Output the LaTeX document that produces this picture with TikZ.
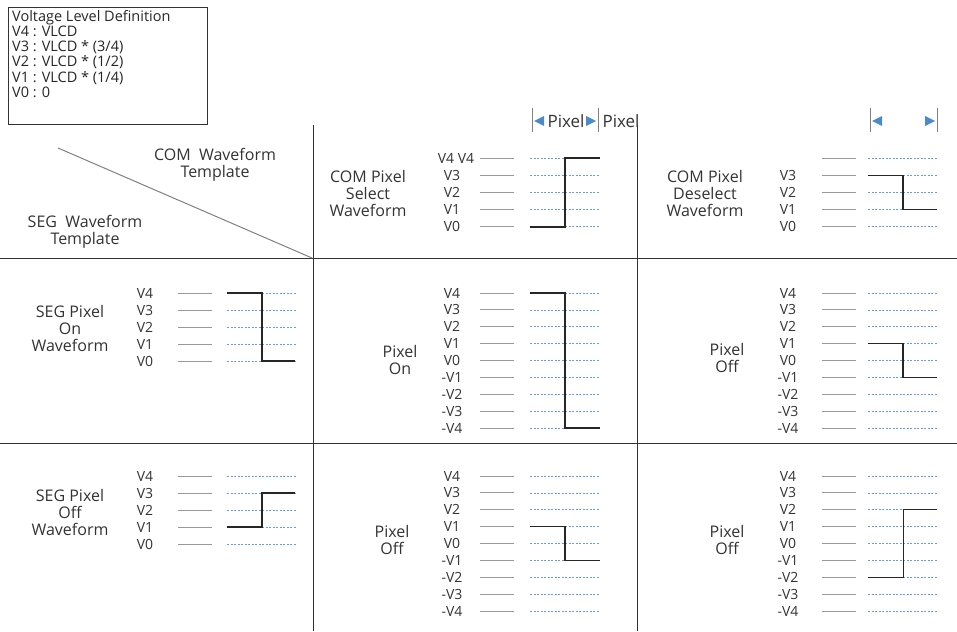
\documentclass[tikz,border=0pt]{standalone}
\usepackage{fontspec}
\setmainfont{Open Sans}
\begin{document}
\begin{tikzpicture}[x=1pt,y=-1pt,
  solidlvl/.style={draw=gray!80,line width=0.9pt},
  dashlvl/.style={draw=cyan!50!blue!60,line width=0.7pt,dash pattern=on 2pt off 1.5pt},
  wave/.style={draw=black!85,line width=1.2pt},
  lbl/.style={font=\fontsize{14}{14}\selectfont,text=black!80,inner sep=0pt},
  ttl/.style={font=\fontsize{16}{17}\selectfont,text=black!80,align=center,inner sep=0pt},
  grid/.style={draw=black!80,line width=0.9pt}]
\useasboundingbox (0,0) rectangle (957,631);
% box
\draw[black!80,line width=1pt] (8,8) rectangle (207,125);
\node[anchor=north west,align=left,inner sep=0pt,font=\fontsize{14.5}{15.2}\selectfont,text=black!85] (def) at (12,10)
 {Voltage Level Definition\\V4 : VLCD\\V3 : VLCD * (3/4)\\V2 : VLCD * (1/2)\\V1 : VLCD * (1/4)\\V0 : 0};
% grid
\draw[grid] (0,258) -- (957,258);
\draw[grid] (0,443) -- (957,443);
\draw[grid] (313,125) -- (313,631);
\draw[grid] (637,125) -- (637,631);
\draw[gray,line width=1pt] (58,148) -- (312,258);
\node[ttl] (comt) at (215,165) {COM\ \ Waveform\\Template};
\node[ttl] (segt) at (85,232) {SEG\ \ Waveform\\Template};
\node[ttl] (cs) at (368,193) {COM Pixel\\Select\\Waveform};
\node[ttl] (cd) at (705,193) {COM Pixel\\Deselect\\Waveform};
\node[ttl] (so) at (70,328) {SEG Pixel\\On\\Waveform};
\node[ttl] (sf) at (70,512) {SEG Pixel\\Off\\Waveform};
\node[ttl] (p1) at (400,360) {Pixel\\On};
\node[ttl] (p2) at (392,540) {Pixel\\Off};
\node[ttl] (p3) at (727,358) {Pixel\\Off};
\node[ttl] (p4) at (727,540) {Pixel\\Off};
\newcommand\lvls[6]{%
 \foreach \lab [count=\i from 0] in {#6} {
   \pgfmathsetmacro\yy{#4+\i*#5}
   \node[lbl] at (#1,\yy) {\lab};
   \draw[solidlvl] (#2,\yy) -- ++(34,0);
   \draw[dashlvl] (#3,\yy) -- ++(70,0);
 }}
% row 1
\lvls{452}{480}{530}{158}{17.2}{{},V3,V2,V1,V0}
\node[lbl] at (456,158) {V4 V4};
\lvls{788}{822}{868}{158}{17.2}{{},V3,V2,V1,V0}
% row 2
\lvls{145}{178}{227}{293}{17}{V4,V3,V2,V1,V0}
\lvls{452}{480}{530}{293}{16.9}{V4,V3,V2,V1,V0,-V1,-V2,-V3,-V4}
\lvls{788}{822}{868}{293}{16.9}{V4,V3,V2,V1,V0,-V1,-V2,-V3,-V4}
% row 3
\lvls{145}{178}{227}{476}{17}{V4,V3,V2,V1,V0}
\lvls{452}{480}{530}{476}{16.9}{V4,V3,V2,V1,V0,-V1,-V2,-V3,-V4}
\lvls{788}{822}{868}{476}{16.9}{V4,V3,V2,V1,V0,-V1,-V2,-V3,-V4}
% waveforms
\draw[wave] (530,227) -- (565,227) -- (565,158) -- (600,158);
\draw[wave] (868,175.2) -- (903,175.2) -- (903,209.6) -- (937,209.6);
\draw[wave] (227,293) -- (262,293) -- (262,361) -- (295,361);
\draw[wave] (227,527) -- (262,527) -- (262,493) -- (295,493);
\draw[wave] (530,293) -- (565,293) -- (565,428) -- (600,428);
\draw[wave] (530,526.7) -- (565,526.7) -- (565,560.5) -- (600,560.5);
\draw[wave] (868,343.7) -- (903,343.7) -- (903,377.5) -- (937,377.5);
\draw[wave,line width=0.8pt] (868,577.4) -- (903,577.4) -- (903,509.8) -- (937,509.8);
% pixel markers
\draw[gray,line width=0.8pt] (532,108) -- (532,132) (598,108) -- (598,132);
\draw[gray,line width=0.8pt] (870,108) -- (870,132) (937,108) -- (937,132);
\fill[blue!50!cyan!70!black!70] (534,121) -- (544,116) -- (544,126) -- cycle;
\fill[blue!50!cyan!70!black!70] (596,121) -- (586,116) -- (586,126) -- cycle;
\fill[blue!50!cyan!70!black!70] (872,121) -- (882,116) -- (882,126) -- cycle;
\fill[blue!50!cyan!70!black!70] (935,121) -- (925,116) -- (925,126) -- cycle;
\node[font=\fontsize{17}{17}\selectfont,text=black!80,inner sep=0pt] (px1) at (566,121) {Pixel};
\node[font=\fontsize{17}{17}\selectfont,text=black!80,inner sep=0pt] (px2) at (621,121) {Pixel};
\end{tikzpicture}
\end{document}
